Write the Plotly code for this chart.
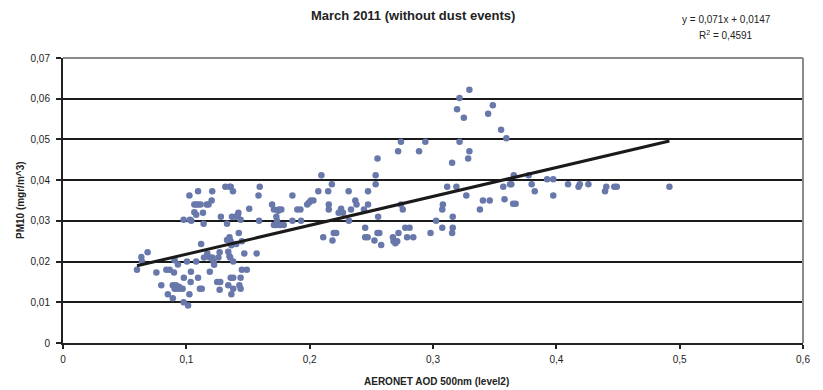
import plotly.graph_objects as go

# AERONET AOD 500nm (x) and PM10 (y)
aod = [
    0.060, 0.0635, 0.064, 0.0686, 0.0757, 0.0797, 0.0838, 0.085, 0.0865,
    0.089, 0.0905, 0.0915, 0.093, 0.094, 0.0955, 0.097,
    0.089, 0.090, 0.0905, 0.0932, 0.0978, 0.0978, 0.098, 0.1005, 0.1014,
    0.1025, 0.1025, 0.103, 0.1035, 0.1037, 0.104, 0.1065, 0.1065, 0.108,
    0.108, 0.1095, 0.1115, 0.108, 0.1095, 0.1095, 0.111, 0.112, 0.1125,
    0.1135, 0.114, 0.1143, 0.1165, 0.118, 0.117, 0.119, 0.121, 0.119,
    0.1205, 0.121, 0.122, 0.1225, 0.125, 0.126, 0.127, 0.127, 0.1275,
    0.128, 0.1316, 0.133, 0.133, 0.134, 0.134, 0.135, 0.1355, 0.135,
    0.136, 0.135, 0.136, 0.1365, 0.136, 0.138, 0.1365, 0.1378, 0.137,
    0.138, 0.138, 0.14, 0.1405, 0.1418, 0.1422, 0.1425, 0.143, 0.144,
    0.144, 0.144, 0.145, 0.145, 0.149, 0.147, 0.151, 0.157, 0.1585,
    0.159, 0.1595,
    0.1695, 0.171, 0.173, 0.171, 0.173, 0.1745, 0.175, 0.177, 0.1735,
    0.176, 0.179,
    0.186, 0.186, 0.190, 0.1925, 0.193, 0.198, 0.1995, 0.201, 0.203,
    0.207, 0.2095, 0.211, 0.215, 0.2155, 0.2155, 0.218, 0.2185, 0.2195,
    0.2215, 0.2235, 0.2255, 0.227, 0.2316, 0.2318, 0.2335, 0.237, 0.238,
    0.244, 0.245, 0.245, 0.247, 0.2473, 0.2473, 0.2525, 0.2535, 0.2535,
    0.255, 0.2565, 0.2555, 0.255, 0.258, 0.2675, 0.268, 0.2695, 0.271,
    0.272, 0.2717, 0.274, 0.274, 0.2755, 0.2775, 0.281, 0.279, 0.284,
    0.2887, 0.2938, 0.298, 0.3025, 0.3075, 0.308, 0.3075, 0.3115, 0.3155,
    0.316, 0.3155, 0.316, 0.319, 0.3195, 0.3215, 0.3215, 0.325, 0.327,
    0.3285, 0.3295, 0.3295, 0.338, 0.3405, 0.3447, 0.346, 0.3485, 0.3552,
    0.357, 0.358, 0.3595, 0.3625, 0.3635, 0.3655, 0.365, 0.367, 0.3776,
    0.380, 0.3825, 0.3925, 0.3975, 0.3975, 0.4095, 0.418, 0.419, 0.426,
    0.4395, 0.4405, 0.447, 0.449, 0.4917,
]
pm10 = [
    0.018, 0.0211, 0.020, 0.0223, 0.0173, 0.0142, 0.018, 0.012, 0.018,
    0.0142, 0.0133, 0.0142, 0.0133, 0.0138, 0.0133, 0.0133,
    0.011, 0.0173, 0.0203, 0.0193, 0.0303, 0.010, 0.016, 0.020, 0.0092,
    0.0362, 0.012, 0.0303, 0.015, 0.0175, 0.030, 0.0321, 0.034, 0.0315,
    0.034, 0.034, 0.034, 0.020, 0.016, 0.0373, 0.0133, 0.0243, 0.0133,
    0.032, 0.0293, 0.021, 0.034, 0.034, 0.022, 0.021, 0.021, 0.0175,
    0.035, 0.0373, 0.020, 0.0192, 0.015, 0.021, 0.0223, 0.0131, 0.015,
    0.031, 0.0384, 0.0253, 0.0293, 0.0142, 0.0224, 0.0213, 0.021, 0.0384,
    0.0384, 0.026, 0.025, 0.024, 0.016, 0.016, 0.012, 0.0373, 0.031,
    0.0133, 0.020, 0.031, 0.0243, 0.0315, 0.032, 0.027, 0.0142, 0.0133,
    0.016, 0.0303, 0.025, 0.018, 0.018, 0.022, 0.033, 0.022, 0.0362,
    0.030, 0.0384,
    0.034, 0.0328, 0.029, 0.029, 0.031, 0.0325, 0.0328, 0.0328, 0.030,
    0.029, 0.029,
    0.0362, 0.030, 0.0328, 0.0328, 0.030, 0.034, 0.0345, 0.035, 0.035,
    0.0373, 0.0412, 0.026, 0.0373, 0.034, 0.0328, 0.039, 0.0252, 0.027,
    0.027, 0.032, 0.033, 0.032, 0.0373, 0.030, 0.0328, 0.035, 0.034,
    0.0328, 0.0283, 0.026, 0.026, 0.0373, 0.034, 0.0252, 0.039, 0.0412,
    0.027, 0.027, 0.031, 0.0453, 0.0241, 0.026, 0.025, 0.0245, 0.025,
    0.027, 0.0471, 0.0494, 0.034, 0.0328, 0.0283, 0.0283, 0.026, 0.026,
    0.0471, 0.0494, 0.027, 0.030, 0.0328, 0.034, 0.0283, 0.0384, 0.027,
    0.0283, 0.0443, 0.031, 0.0384, 0.0574, 0.0602, 0.0494, 0.0553, 0.0362,
    0.0453, 0.0471, 0.0622, 0.0328, 0.035, 0.0563, 0.035, 0.0584, 0.0524,
    0.0384, 0.0353, 0.0503, 0.039, 0.039, 0.0412, 0.0342, 0.0342, 0.0412,
    0.039, 0.0373, 0.0402, 0.0402, 0.0362, 0.039, 0.0384, 0.039, 0.039,
    0.0373, 0.0384, 0.0384, 0.0384, 0.0384,
]

# Linear trend shown on the chart
slope = 0.071
intercept = 0.0147
r2 = 0.4591

x_tick_vals = [0, 0.1, 0.2, 0.3, 0.4, 0.5, 0.6]
x_tick_text = ["0", "0,1", "0,2", "0,3", "0,4", "0,5", "0,6"]
y_tick_vals = [0, 0.01, 0.02, 0.03, 0.04, 0.05, 0.06, 0.07]
y_tick_text = ["0", "0,01", "0,02", "0,03", "0,04", "0,05", "0,06", "0,07"]

title_text = "March 2011 (without dust events)"
x_title = "AERONET AOD 500nm (level2)"
y_title = "PM10 (mgr/m^3)"
eq_line1 = "y = 0,071x + 0,0147"
eq_line2 = "R<sup>2</sup> = 0,4591"

FONT = "Liberation Sans, Arial, sans-serif"
TXT = "#222222"

x_min, x_max = min(aod), max(aod)
trend_x = [x_min, x_max]
trend_y = [slope * v + intercept for v in trend_x]

fig = go.Figure()
fig.add_trace(go.Scatter(
    x=aod, y=pm10, mode="markers",
    marker=dict(color="#6878aa", size=6.5, line=dict(width=0)),
    showlegend=False, hoverinfo="x+y",
))
fig.add_trace(go.Scatter(
    x=trend_x, y=trend_y, mode="lines",
    line=dict(color="#1a1a1a", width=3),
    showlegend=False, hoverinfo="skip",
))

fig.update_layout(
    width=823, height=390,
    margin=dict(l=63, r=20, t=58, b=47, autoexpand=False),
    paper_bgcolor="white", plot_bgcolor="white",
    font=dict(family=FONT, size=10, color=TXT),
    separators=", ",
    xaxis=dict(
        range=[0, 0.6], tickvals=x_tick_vals, ticktext=x_tick_text,
        showgrid=False, zeroline=False, automargin=False,
        showline=True, linecolor="#222", linewidth=2,
        ticks="outside", ticklen=4, tickcolor="#222", tickwidth=1.5,
        ticklabelstandoff=2,
        tickfont=dict(size=10, color=TXT),
    ),
    yaxis=dict(
        range=[0, 0.07], tickvals=y_tick_vals, ticktext=y_tick_text,
        showgrid=True, gridcolor="#1a1a1a", gridwidth=1.5,
        zeroline=False, automargin=False,
        showline=True, linecolor="#222", linewidth=2,
        ticks="outside", ticklen=5, tickcolor="#222", tickwidth=1.5,
        ticklabelstandoff=4,
        tickfont=dict(size=10, color=TXT),
    ),
    shapes=[
        dict(type="line", xref="paper", yref="paper", x0=0, x1=1, y0=1, y1=1,
             line=dict(color="#8a8a8a", width=2), layer="above"),
        dict(type="line", xref="paper", yref="paper", x0=1, x1=1, y0=0, y1=1,
             line=dict(color="#8a8a8a", width=2), layer="above"),
    ],
    annotations=[
        dict(text="<b>" + title_text + "</b>", xref="paper", yref="paper",
             x=(413 - 63) / 740, y=(343 - 16) / 285, xanchor="center",
             yanchor="middle", showarrow=False,
             font=dict(size=13, color=TXT)),
        dict(text=eq_line1, xref="paper", yref="paper",
             x=(726 - 63) / 740, y=(343 - 19.5) / 285,
             xanchor="center", yanchor="middle", showarrow=False,
             font=dict(size=10, color=TXT)),
        dict(text=eq_line2, xref="paper", yref="paper",
             x=(726 - 63) / 740, y=(343 - 35) / 285,
             xanchor="center", yanchor="middle", showarrow=False,
             font=dict(size=10, color=TXT)),
        dict(text="<b>" + x_title + "</b>", xref="paper", yref="paper",
             x=(437 - 63) / 740, y=(343 - 381) / 285,
             xanchor="center", yanchor="middle", showarrow=False,
             font=dict(size=10, color=TXT)),
        dict(text="<b>" + y_title + "</b>", xref="paper", yref="paper",
             x=(20 - 63) / 740, y=(343 - 200) / 285, textangle=-90,
             xanchor="center", yanchor="middle", showarrow=False,
             font=dict(size=10, color=TXT)),
    ],
)

fig.write_html("out.html",
               config={"displayModeBar": False},
               post_script="document.body.style.margin='0px';"
                           "document.body.style.padding='0px';")
